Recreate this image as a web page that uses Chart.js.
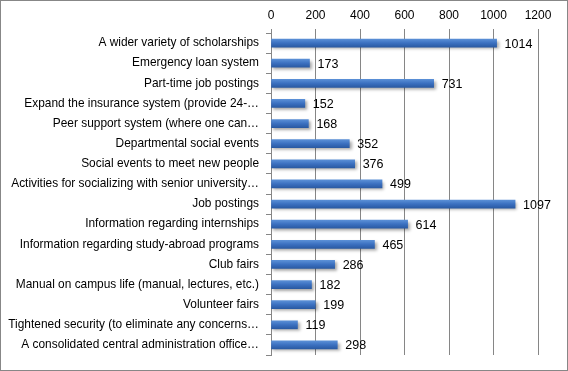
<!DOCTYPE html>
<html><head><meta charset="utf-8">
<script src="https://cdn.jsdelivr.net/npm/chart.js@4/dist/chart.umd.min.js"></script>
<style>html,body{margin:0;padding:0;background:#fff}#wrap{width:568px;height:371px;position:relative}</style>
</head><body><div id="wrap"><canvas id="c" width="568" height="371"></canvas></div>
<script>
const categories = [
  "A wider variety of scholarships",
  "Emergency loan system",
  "Part-time job postings",
  "Expand the insurance system (provide 24-…",
  "Peer support system (where one can…",
  "Departmental social events",
  "Social events to meet new people",
  "Activities for socializing with senior university…",
  "Job postings",
  "Information regarding internships",
  "Information regarding study-abroad programs",
  "Club fairs",
  "Manual on campus life (manual, lectures, etc.)",
  "Volunteer fairs",
  "Tightened security (to eliminate any concerns…",
  "A consolidated central administration office…"
];
const values = [1014, 173, 731, 152, 168, 352, 376, 499, 1097, 614, 465, 286, 182, 199, 119, 298];
const xTicks = [0, 200, 400, 600, 800, 1000, 1200];

const FONT = "'Liberation Sans', Arial, sans-serif";

const deco = {
  id: 'deco',
  beforeDatasetsDraw(chart) {
    const ctx = chart.ctx;
    ctx.save();
    ctx.shadowColor = 'rgba(0,0,0,0.35)';
    ctx.shadowOffsetX = 2;
    ctx.shadowOffsetY = 2;
    ctx.shadowBlur = 3;
  },
  afterDatasetsDraw(chart) {
    const ctx = chart.ctx;
    ctx.restore();
    const meta = chart.getDatasetMeta(0);
    ctx.save();
    ctx.fillStyle = '#000';
    ctx.font = '12.5px ' + FONT;
    ctx.textAlign = 'left';
    ctx.textBaseline = 'middle';
    meta.data.forEach((el, i) => {
      ctx.fillText(String(values[i]), el.x + 8, el.y + 1);
    });
    ctx.restore();
  },
  afterDraw(chart) {
    const ctx = chart.ctx;
    ctx.save();
    ctx.strokeStyle = '#878787';
    ctx.lineWidth = 1;
    ctx.strokeRect(0.5, 0.5, 567, 370);
    ctx.restore();
  }
};

new Chart(document.getElementById('c'), {
  type: 'bar',
  data: {
    labels: categories,
    datasets: [{
      data: values,
      barThickness: 8,
      borderWidth: 0,
      backgroundColor: (c) => {
        const ch = c.chart;
        const y = ch.scales && ch.scales.y;
        if (!y || !ch.chartArea) return '#3a6fbf';
        const py = y.getPixelForValue(c.dataIndex);
        const g = ch.ctx.createLinearGradient(0, py - 4, 0, py + 4);
        g.addColorStop(0, '#5a8fd6');
        g.addColorStop(0.5, '#3b70c0');
        g.addColorStop(1, '#2a5aa3');
        return g;
      }
    }]
  },
  options: {
    indexAxis: 'y',
    responsive: false,
    animation: false,
    devicePixelRatio: 1,
    layout: { padding: { left: 0, right: 30, top: 0, bottom: 16 } },
    plugins: { legend: { display: false }, tooltip: { enabled: false } },
    scales: {
      x: {
        position: 'top',
        min: 0, max: 1200,
        afterFit(s) { s.height = 33; },
        afterBuildTicks(s) { s.ticks = xTicks.map(v => ({ value: v })); },
        ticks: { color: '#000', font: { size: 12, family: FONT }, padding: 6, maxRotation: 0, callback: (v) => String(v) },
        grid: { color: '#868686', tickLength: 4, drawTicks: true },
        border: { display: false }
      },
      y: {
        afterFit(s) { s.width = 271; },
        ticks: { color: '#000', font: { size: 11.9, family: FONT }, padding: 7, autoSkip: false },
        grid: { drawOnChartArea: false, color: '#868686', tickLength: 5, offset: true },
        border: { display: true, color: '#868686' }
      }
    }
  },
  plugins: [deco]
});
</script>
</body></html>
